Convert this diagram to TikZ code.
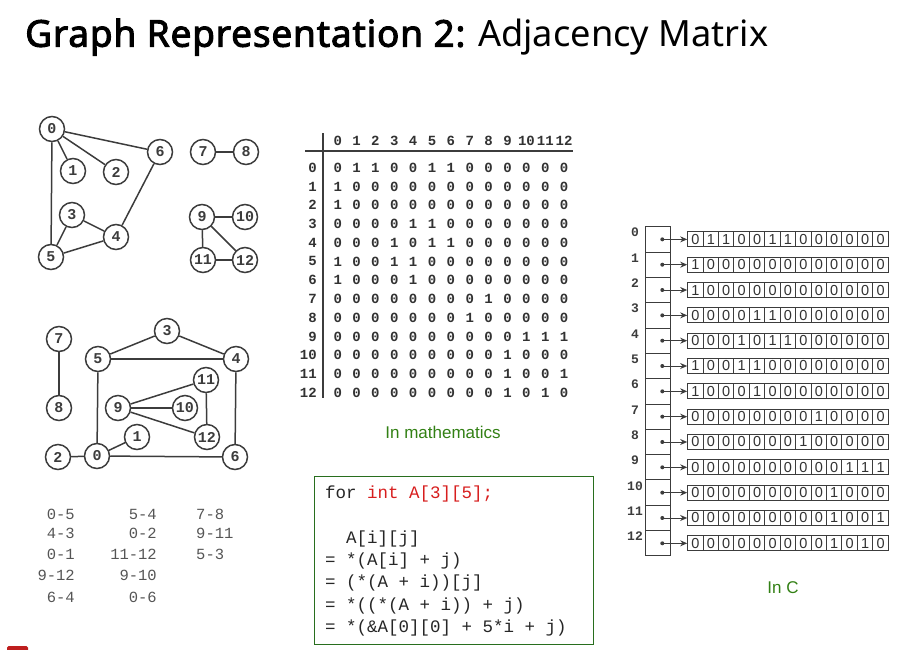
\documentclass[tikz,border=0pt]{standalone}
\usepackage{fontspec}
\setmainfont{Noto Sans}
\newfontfamily\titleboldf{Noto Sans}[FakeBold=2.6,LetterSpace=2.2]
\newfontfamily\monof{Liberation Mono}
\newfontfamily\arialf{Liberation Sans}
\usetikzlibrary{arrows.meta}
\definecolor{gline}{RGB}{60,60,60}
\definecolor{capgreen}{RGB}{50,128,20}
\definecolor{boxgreen}{RGB}{40,110,30}
\definecolor{codered}{RGB}{215,30,30}
\definecolor{mtext}{RGB}{50,50,50}
\definecolor{etext}{RGB}{85,85,85}
\definecolor{redmark}{RGB}{190,30,30}
\def\rowsdata{0/{0,1,1,0,0,1,1,0,0,0,0,0,0},1/{1,0,0,0,0,0,0,0,0,0,0,0,0},2/{1,0,0,0,0,0,0,0,0,0,0,0,0},3/{0,0,0,0,1,1,0,0,0,0,0,0,0},4/{0,0,0,1,0,1,1,0,0,0,0,0,0},5/{1,0,0,1,1,0,0,0,0,0,0,0,0},6/{1,0,0,0,1,0,0,0,0,0,0,0,0},7/{0,0,0,0,0,0,0,0,1,0,0,0,0},8/{0,0,0,0,0,0,0,1,0,0,0,0,0},9/{0,0,0,0,0,0,0,0,0,0,1,1,1},10/{0,0,0,0,0,0,0,0,0,1,0,0,0},11/{0,0,0,0,0,0,0,0,0,1,0,0,1},12/{0,0,0,0,0,0,0,0,0,1,0,1,0}}
\begin{document}
\begin{tikzpicture}[x=1pt,y=-1pt,
  gnode/.style={circle,draw=gline,line width=1.5pt,minimum size=25pt,inner sep=0pt,
    font=\monof\bfseries\fontsize{15}{15}\selectfont,text=gline},
  gedge/.style={draw=gline,line width=1.5pt},
  elist/.style={font=\monof\fontsize{15.5}{15.5}\selectfont,text=etext,inner sep=0pt},
  mval/.style={font=\monof\bfseries\fontsize{14}{14}\selectfont,text=mtext,inner sep=0pt},
  mlab/.style={mval,anchor=east},
  rulestyle/.style={draw=gline,line width=1.2pt},
  captext/.style={font=\arialf\fontsize{17}{17}\selectfont,text=capgreen,inner sep=0pt},
  code/.style={font=\monof\fontsize{17.5}{17.5}\selectfont,text=black!85,inner sep=0pt,anchor=base west},
  pcell/.style={draw=gline,line width=1pt,minimum width=25pt,minimum height=25.33pt,inner sep=0pt},
  plab/.style={font=\monof\bfseries\fontsize{13}{13}\selectfont,text=gline,inner sep=0pt},
  acell/.style={draw=gline,line width=1pt,minimum width=15.43pt,minimum height=15pt,inner sep=0pt,
    font=\arialf\fontsize{14.5}{14.5}\selectfont,text=mtext},
  parrow/.style={draw=gline,line width=0.9pt,-{Stealth[length=7pt,width=6pt]}}
]
\useasboundingbox (0,0) rectangle (903,649);

% title
\node[anchor=base west,inner sep=0pt,font=\fontsize{37}{37}\selectfont] (title) at (25,46.7)
  {{\titleboldf Graph Representation 2:} {\fontsize{36.2}{37}\selectfont Adjacency Matrix}};

% graph A (top left)
\node[gnode] (a0) at (52,129) {0};
\node[gnode] (a1) at (73,171) {1};
\node[gnode] (a2) at (116,172) {2};
\node[gnode] (a6) at (160,152) {6};
\node[gnode] (a3) at (72,215) {3};
\node[gnode] (a4) at (116,237) {4};
\node[gnode] (a5) at (51,257) {5};
\node[gnode] (a7) at (203,152) {7};
\node[gnode] (a8) at (246,152) {8};
\node[gnode] (a9) at (202,217) {9};
\node[gnode] (a10) at (245,217) {10};
\node[gnode] (a11) at (203,260) {11};
\node[gnode] (a12) at (245,260) {12};
\foreach \u/\v in {a0/a6,a0/a1,a0/a2,a0/a5,a6/a4,a3/a4,a3/a5,a5/a4,a7/a8,a9/a10,a9/a11,a9/a12,a11/a12}
  \draw[gedge] (\u) -- (\v);

% graph B (bottom left)
\node[gnode] (b7) at (59,339) {7};
\node[gnode] (b8) at (59,408) {8};
\node[gnode] (b5) at (98,359) {5};
\node[gnode] (b3) at (167,331) {3};
\node[gnode] (b4) at (236,359) {4};
\node[gnode] (b11) at (206,380) {11};
\node[gnode] (b9) at (118,408) {9};
\node[gnode] (b10) at (185,408) {10};
\node[gnode] (b12) at (207,437) {12};
\node[gnode] (b1) at (137,437) {1};
\node[gnode] (b2) at (58,457) {2};
\node[gnode] (b0) at (97,456) {0};
\node[gnode] (b6) at (235,457) {6};
\foreach \u/\v in {b7/b8,b5/b3,b3/b4,b5/b4,b5/b0,b4/b6,b0/b6,b2/b0,b0/b1,b9/b11,b9/b10,b9/b12,b11/b12}
  \draw[gedge] (\u) -- (\v);

% edge list
\node[elist,anchor=base east] (e1) at (75,519) {0-5};
\node[elist,anchor=base east] (e2) at (75,538) {4-3};
\node[elist,anchor=base east] (e3) at (75,559) {0-1};
\node[elist,anchor=base east] (e4) at (75,580) {9-12};
\node[elist,anchor=base east] (e5) at (75,602) {6-4};
\node[elist,anchor=base east] (e6) at (157,519) {5-4};
\node[elist,anchor=base east] (e7) at (157,538) {0-2};
\node[elist,anchor=base east] (e8) at (157,559) {11-12};
\node[elist,anchor=base east] (e9) at (157,580) {9-10};
\node[elist,anchor=base east] (e10) at (157,602) {0-6};
\node[elist,anchor=base west] (e11) at (196,519) {7-8};
\node[elist,anchor=base west] (e12) at (196,538) {9-11};
\node[elist,anchor=base west] (e13) at (196,559) {5-3};

% mathematical matrix
\foreach \c in {0,...,12}
  \node[mval] (mh\c) at ({337.7+18.87*\c},141) {\c};
\foreach \r/\row in \rowsdata {
  \node[mlab] (mr\r) at (317,{167.7+18.75*\r}) {\r};
  \foreach \v [count=\c from 0] in \row
    \node[mval] (m-\r-\c) at ({337.7+18.87*\c},{167.7+18.75*\r}) {\v};
}
\coordinate (hl1) at (305,151);
\coordinate (hl2) at (573,151);
\coordinate (vl1) at (323,133);
\coordinate (vl2) at (323,398);
\draw[rulestyle] (hl1) -- (hl2);
\draw[rulestyle] (vl1) -- (vl2);
\node[captext] (capm) at (443,432) {In mathematics};

% code box
\node[draw=boxgreen,line width=1.3pt,minimum width=279pt,minimum height=168pt,anchor=north west,inner sep=0pt] (codebox) at (314,476) {};
\node[code] (c1) at (325,498) {for \textcolor{codered}{int A[3][5];}};
\node[code] (c2) at (346,543) {A[i][j]};
\node[code] (c3) at (325,565) {= *(A[i] + j)};
\node[code] (c4) at (325,587) {= (*(A + i))[j]};
\node[code] (c5) at (325,610) {= *((*(A + i)) + j)};
\node[code] (c6) at (325,632) {= *(\&A[0][0] + 5*i + j)};

% C representation
\foreach \r/\row in \rowsdata {
  \node[pcell] (pc\r) at (658.2,{239.35+25.33*\r}) {};
  \node[plab] (pl\r) at (635,{232.5+25.33*\r}) {\r};
  \coordinate (pd\r) at (662.3,{239.35+25.33*\r});
  \fill[gline] (pd\r) circle (2);
  \foreach \v [count=\c from 0] in \row
    \node[acell] (p-\r-\c) at ({695.4+15.43*\c},{239.35+25.33*\r}) {\v};
  \draw[parrow] (pd\r) -- (p-\r-0.west);
}
\node[captext] (capc) at (783,588) {In C};

% red mark
\fill[redmark,rounded corners=1.5pt] (7,646) rectangle (28,652);
\end{tikzpicture}
\end{document}
